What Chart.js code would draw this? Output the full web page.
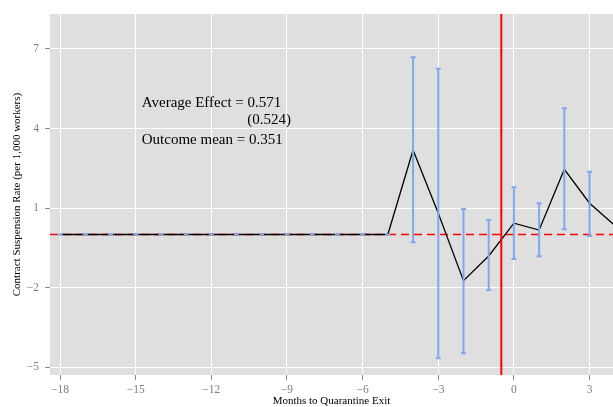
<!DOCTYPE html>
<html>
<head>
<meta charset="utf-8">
<script src="https://cdn.jsdelivr.net/npm/chart.js@4/dist/chart.umd.min.js"></script>
<style>
  html, body { margin: 0; padding: 0; background: #fff; }
  #wrap { width: 613px; height: 407px; }
</style>
</head>
<body>
<div id="wrap"><canvas id="chart" width="613" height="407"></canvas></div>
<script>
// event-study data: months relative to quarantine exit
const months = [-18, -17, -16, -15, -14, -13, -12, -11, -10, -9, -8, -7, -6, -5, -4, -3, -2, -1, 0, 1, 2, 3, 4];
const estimates = [0, 0, 0, 0, 0, 0, 0, 0, 0, 0, 0, 0, 0, 0, 3.19, 0.80, -1.74, -0.81, 0.43, 0.17, 2.46, 1.18, 0.34];
// month 4 sits past the panel edge, its interval is not shown
const ciLow = [0, 0, 0, 0, 0, 0, 0, 0, 0, 0, 0, 0, 0, 0, -0.29, -4.67, -4.48, -2.09, -0.92, -0.82, 0.20, -0.06, null];
const ciHigh = [0, 0, 0, 0, 0, 0, 0, 0, 0, 0, 0, 0, 0, 0, 6.69, 6.25, 0.96, 0.55, 1.78, 1.18, 4.76, 2.37, null];

const xTicks = [-18, -15, -12, -9, -6, -3, 0, 3];
const yTicks = [-5, -2, 1, 4, 7];

const exitLine = -0.5;
const avgEffect = '0.571';
const avgEffectSE = '(0.524)';
const outcomeMean = '0.351';

const serif = '"Liberation Serif", "Times New Roman", serif';
const minus = v => String(v).replace('-', '\u2212');

// grey panel behind the grid
const panelBg = {
    id: 'panelBg',
    beforeDraw(chart) {
        const { ctx, chartArea: a } = chart;
        ctx.save();
        ctx.fillStyle = '#dfdfdf';
        ctx.fillRect(a.left, a.top, a.right - a.left, a.bottom - a.top);
        ctx.restore();
    }
};

// red dashed zero line, error bars, red exit line, text
const extras = {
    id: 'extras',
    beforeDatasetsDraw(chart) {
        const { ctx, chartArea: a, scales: { y } } = chart;
        const y0 = y.getPixelForValue(0);
        ctx.save();
        ctx.strokeStyle = '#ff0000';
        ctx.lineWidth = 1.4;
        ctx.setLineDash([8, 5]);
        ctx.beginPath();
        ctx.moveTo(a.left, y0);
        ctx.lineTo(a.right, y0);
        ctx.stroke();
        ctx.restore();
    },
    afterDatasetsDraw(chart) {
        const { ctx, chartArea: a, scales: { x, y } } = chart;
        ctx.save();
        ctx.beginPath();
        ctx.rect(a.left, a.top, a.right - a.left, a.bottom - a.top);
        ctx.clip();

        // error bars
        ctx.strokeStyle = 'rgb(128, 168, 240)';
        ctx.lineWidth = 2;
        months.forEach((m, i) => {
            if (ciLow[i] === null) return;
            const px = x.getPixelForValue(m);
            const lo = y.getPixelForValue(ciLow[i]);
            const hi = y.getPixelForValue(ciHigh[i]);
            ctx.beginPath();
            ctx.moveTo(px, lo);
            ctx.lineTo(px, hi);
            ctx.moveTo(px - 2.5, lo);
            ctx.lineTo(px + 2.5, lo);
            ctx.moveTo(px - 2.5, hi);
            ctx.lineTo(px + 2.5, hi);
            ctx.stroke();
        });

        // quarantine exit
        const vx = x.getPixelForValue(exitLine);
        ctx.strokeStyle = '#ff0000';
        ctx.lineWidth = 2;
        ctx.beginPath();
        ctx.moveTo(vx, a.top);
        ctx.lineTo(vx, a.bottom);
        ctx.stroke();
        ctx.restore();

        // annotation
        ctx.save();
        ctx.fillStyle = '#000';
        ctx.font = '15px ' + serif;
        ctx.textBaseline = 'middle';
        const tx = x.getPixelForValue(-14.76);
        ctx.textAlign = 'left';
        ctx.fillText('Average Effect = ' + avgEffect, tx, y.getPixelForValue(4.96));
        ctx.fillText('Outcome mean = ' + outcomeMean, tx, y.getPixelForValue(3.55));
        ctx.textAlign = 'right';
        ctx.fillText(avgEffectSE, x.getPixelForValue(-8.84), y.getPixelForValue(4.3));
        ctx.restore();
    }
};

new Chart(document.getElementById('chart'), {
    type: 'line',
    data: {
        datasets: [{
            data: months.map((m, i) => ({ x: m, y: estimates[i] })),
            borderColor: '#000',
            borderWidth: 1.3,
            pointRadius: 0,
            tension: 0,
            fill: false
        }]
    },
    options: {
        responsive: false,
        animation: false,
        layout: { padding: { top: 14, left: 0, right: 0, bottom: 0 } },
        plugins: {
            legend: { display: false },
            tooltip: { enabled: false }
        },
        scales: {
            x: {
                type: 'linear',
                min: -18.4,
                max: 3.93,
                afterBuildTicks: s => { s.ticks = xTicks.map(v => ({ value: v })); },
                afterFit: s => { s.height = 32; },
                grid: { color: '#ffffff', lineWidth: 1, tickColor: '#888', tickLength: 5 },
                border: { display: false },
                ticks: {
                    color: '#7f7f7f',
                    font: { family: serif, size: 11.5 },
                    padding: 3,
                    maxRotation: 0,
                    callback: v => minus(v)
                },
                title: {
                    display: true,
                    text: 'Months to Quarantine Exit',
                    color: '#000',
                    font: { family: serif, size: 11, lineHeight: 1 },
                    padding: 0
                }
            },
            y: {
                min: -5.3,
                max: 8.32,
                afterBuildTicks: s => { s.ticks = yTicks.map(v => ({ value: v })); },
                afterFit: s => { s.width = 50; },
                grid: { color: '#ffffff', lineWidth: 1, tickColor: '#888', tickLength: 5 },
                border: { display: false },
                ticks: {
                    color: '#7f7f7f',
                    font: { family: serif, size: 11.5 },
                    padding: 6,
                    callback: v => minus(v)
                },
                title: {
                    display: true,
                    text: 'Contract Suspension Rate (per 1,000 workers)',
                    color: '#000',
                    font: { family: serif, size: 11, lineHeight: 1 },
                    padding: { top: 12, bottom: 0 }
                }
            }
        }
    },
    plugins: [panelBg, extras]
});
</script>
</body>
</html>
